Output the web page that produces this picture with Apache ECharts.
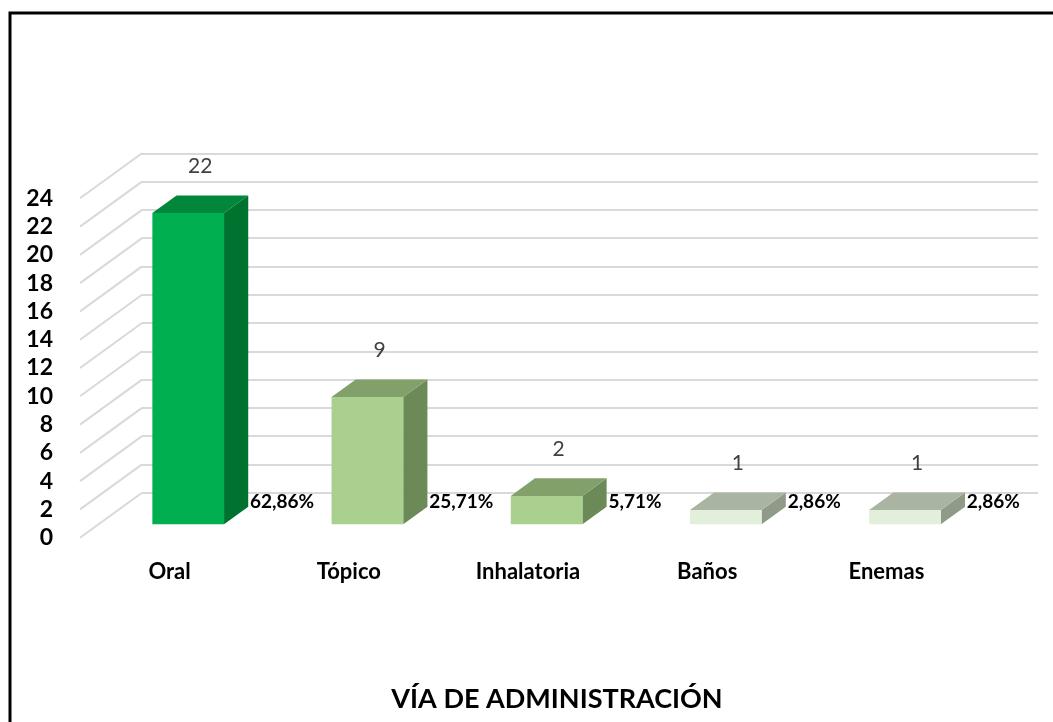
<!DOCTYPE html>
<html>
<head>
<meta charset="utf-8">
<title>Vía de administración</title>
<script src="https://cdn.jsdelivr.net/npm/echarts@6/dist/echarts.min.js"></script>
<style>
  html, body { margin: 0; padding: 0; background: #fff; }
  #chart { width: 1053px; height: 722px; }
</style>
</head>
<body>
<div id="chart"></div>
<script>
// datos de la gráfica
var categories = ['Oral', 'Tópico', 'Inhalatoria', 'Baños', 'Enemas'];
var counts = [22, 9, 2, 1, 1];
var percents = ['62,86%', '25,71%', '5,71%', '2,86%', '2,86%'];
var yTicks = [0, 2, 4, 6, 8, 10, 12, 14, 16, 18, 20, 22, 24];

// colores de cada barra: frente, tapa, lado
var faceColors = ['#00B050', '#A9D08E', '#A9D08E', '#E2EFDA', '#E2EFDA'];
var topColors = ['#00873A', '#82A06A', '#82A06A', '#A9B5A2', '#A9B5A2'];
var sideColors = ['#00722F', '#6C8A58', '#6C8A58', '#8F9A89', '#8F9A89'];

// profundidad del "3D": pared del fondo -> plano frontal
var DX = -62, DY = 45;
var FRONT = 0.70, BACK = 0.31; // fracción de profundidad de las barras
var FONT = 'Lato, "Open Sans", sans-serif';

var chart = echarts.init(document.getElementById('chart'));

function renderBar(params, api) {
  var i = api.value(0);
  var v = api.value(1);
  var base = api.coord([i, 0]);
  var top = api.coord([i, v]);
  var bw = api.size([1, 0])[0] * 0.4;
  var fx = DX * FRONT, fy = DY * FRONT;
  var bx = DX * BACK, by = DY * BACK;
  var l = base[0] - bw / 2, r = base[0] + bw / 2;

  var ftl = [l + fx, top[1] + fy], ftr = [r + fx, top[1] + fy];
  var fbl = [l + fx, base[1] + fy], fbr = [r + fx, base[1] + fy];
  var btl = [l + bx, top[1] + by], btr = [r + bx, top[1] + by];
  var bbr = [r + bx, base[1] + by];

  return {
    type: 'group',
    children: [
      { type: 'polygon', shape: { points: [ftr, btr, bbr, fbr] }, style: { fill: sideColors[i] } },
      { type: 'polygon', shape: { points: [ftl, ftr, btr, btl] }, style: { fill: topColors[i] } },
      { type: 'polygon', shape: { points: [ftl, ftr, fbr, fbl] }, style: { fill: faceColors[i] } },
      {
        type: 'text',
        style: {
          text: String(v), x: base[0] + (fx + bx) / 2, y: top[1] + by - 29,
          align: 'center', verticalAlign: 'middle',
          fill: '#404040', font: '21px ' + FONT
        }
      },
      {
        type: 'text',
        style: {
          text: percents[i], x: r + fx + 26, y: base[1] + 9,
          align: 'left', verticalAlign: 'middle',
          fill: '#000', font: 'bold 19px ' + FONT
        }
      }
    ]
  };
}

// líneas diagonales del piso/pared lateral
function renderSideLine(params, api) {
  var p = api.coord([0, api.value(0)]);
  var x0 = params.coordSys.x;
  return {
    type: 'line',
    shape: { x1: x0, y1: p[1], x2: x0 + DX, y2: p[1] + DY },
    style: { stroke: '#D9D9D9', lineWidth: 2 }
  };
}

chart.setOption({
  animation: false,
  backgroundColor: '#fff',
  grid: [
    { left: 142, right: 15, top: 153.3, bottom: 229.3 },
    { left: 142 + DX, right: 15 - DX, top: 153.3 + DY, bottom: 229.3 - DY }
  ],
  xAxis: [
    {
      type: 'category', data: categories, gridIndex: 0,
      axisLine: { show: false }, axisTick: { show: false }, axisLabel: { show: false }
    },
    {
      type: 'category', data: categories, gridIndex: 1,
      axisLine: { show: false }, axisTick: { show: false },
      axisLabel: { margin: 23, color: '#000', fontWeight: 'bold', fontSize: 22, fontFamily: FONT }
    }
  ],
  yAxis: [
    {
      type: 'value', min: 0, max: 24, interval: 2, gridIndex: 0,
      axisLine: { show: false }, axisTick: { show: false }, axisLabel: { show: false },
      splitLine: { lineStyle: { color: '#D9D9D9', width: 2 } }
    },
    {
      type: 'value', min: 0, max: 24, interval: 2, gridIndex: 1,
      axisLine: { show: false }, axisTick: { show: false }, splitLine: { show: false },
      axisLabel: { margin: 27, color: '#000', fontWeight: 'bold', fontSize: 23, fontFamily: FONT }
    }
  ],
  series: [
    {
      type: 'custom', xAxisIndex: 0, yAxisIndex: 0,
      renderItem: renderSideLine,
      data: yTicks.map(function (t) { return [t]; }),
      silent: true, z: 1
    },
    {
      type: 'custom', xAxisIndex: 0, yAxisIndex: 0,
      renderItem: renderBar,
      data: counts.map(function (c, i) { return [i, c]; }),
      z: 3
    }
  ],
  graphic: [
    {
      type: 'rect', z: 10, silent: true,
      shape: { x: 10, y: 13, width: 1100, height: 800 },
      style: { fill: 'none', stroke: '#000', lineWidth: 3 }
    },
    {
      type: 'text', z: 10, x: 557, y: 699,
      style: {
        text: 'VÍA DE ADMINISTRACIÓN', align: 'center', verticalAlign: 'middle',
        fill: '#000', font: 'bold 27px ' + FONT
      }
    }
  ]
});
</script>
</body>
</html>
